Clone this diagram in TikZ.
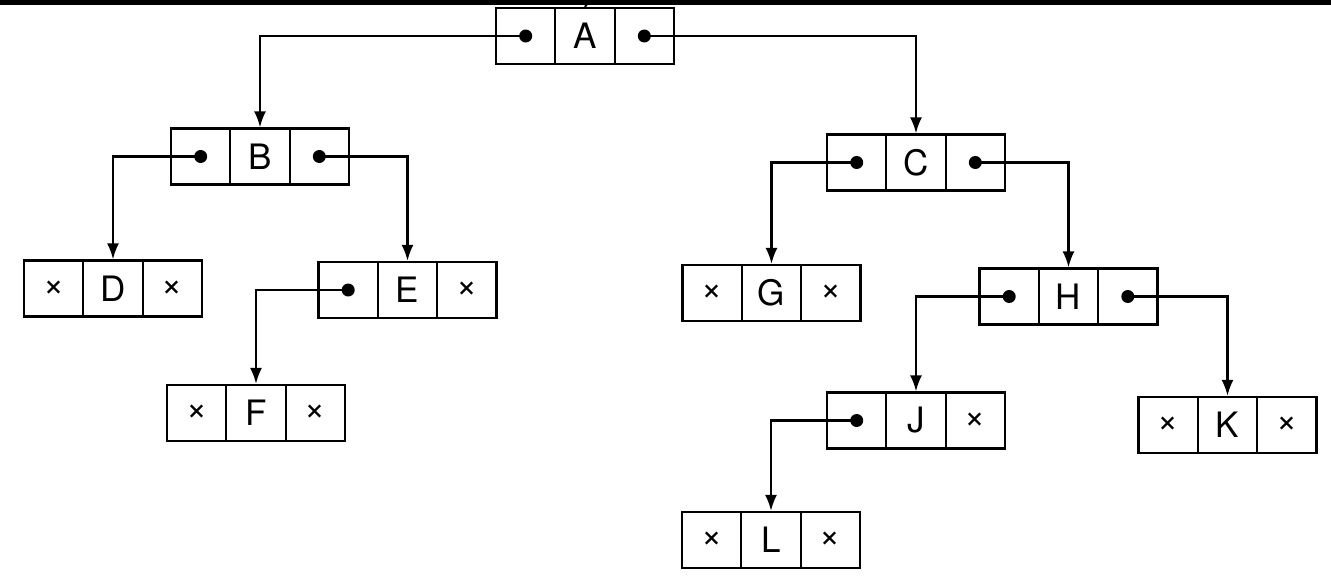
\documentclass[tikz,border=0pt]{standalone}
\usepackage{fontspec}
\setmainfont{TeX Gyre Heros}
\usetikzlibrary{arrows.meta}
\tikzset{
  cell/.style={draw, line width=2.2pt, minimum width=59.3pt, minimum height=56pt,
    inner sep=0pt, font=\fontsize{35}{38}\selectfont},
  conn/.style={line width=2.2pt, -{Latex[length=16pt,width=12pt]}},
  ptrdot/.style={fill=black},
}
\newcommand\nilmark{{\fontsize{36}{38}\selectfont ×}}
\newcommand\mkrec[6]{%
  \node[cell] (#1) at (#2,#3) {#5};
  \node[cell] (#1-l) at (#2-59.3,#3) {#4};
  \node[cell] (#1-r) at (#2+59.3,#3) {#6};
}
\begin{document}
\begin{tikzpicture}[x=1pt,y=-1pt]
\useasboundingbox (0,0) rectangle (1331,584);
\fill[white] (0,0) rectangle (1331,584);
\fill[black] (0,0) rectangle (1331,5);
% records
\mkrec{A}{585}{36}{}{A}{}
\mkrec{B}{260}{156.5}{}{B}{}
\mkrec{C}{916}{162.5}{}{C}{}
\mkrec{D}{113}{288.5}{\nilmark}{D}{\nilmark}
\mkrec{E}{407.5}{290}{}{E}{\nilmark}
\mkrec{F}{256}{413}{\nilmark}{F}{\nilmark}
\mkrec{G}{771.5}{293}{\nilmark}{G}{\nilmark}
\mkrec{H}{1068.5}{296.5}{}{H}{}
\mkrec{J}{916}{420.5}{}{J}{\nilmark}
\mkrec{K}{1227.5}{425}{\nilmark}{K}{\nilmark}
\mkrec{L}{771}{540}{\nilmark}{L}{\nilmark}
% stub to top bar
\coordinate (top) at (587,4);
\draw[line width=2pt] (A.north) -- (top);
% pointer dots
\foreach \n in {A-l,A-r,B-l,B-r,C-l,C-r,E-l,H-l,H-r,J-l}
  \fill[ptrdot] (\n.center) circle[radius=6.5];
% connectors
\draw[conn] (A-l.center) -| (B.north);
\draw[conn] (A-r.center) -| (C.north);
\draw[conn] (B-l.center) -| (D.north);
\draw[conn] (B-r.center) -| (E.north);
\draw[conn] (E-l.center) -| (F.north);
\draw[conn] (C-l.center) -| (G.north);
\draw[conn] (C-r.center) -| (H.north);
\draw[conn] (H-l.center) -| (J.north);
\draw[conn] (H-r.center) -| (K.north);
\draw[conn] (J-l.center) -| (L.north);
\end{tikzpicture}
\end{document}
